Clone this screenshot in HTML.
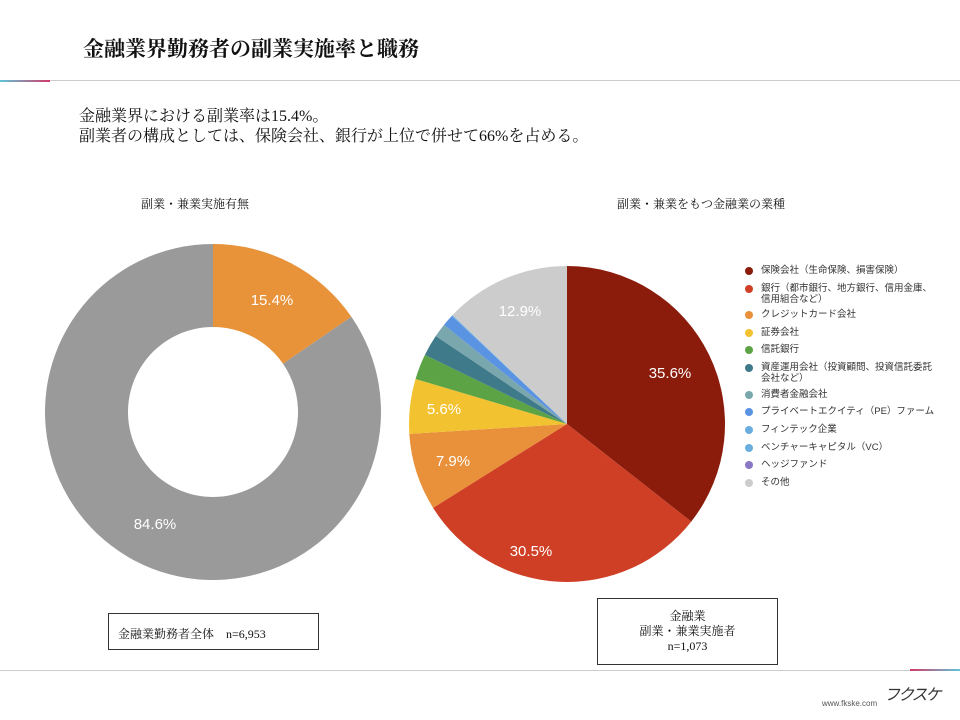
<!DOCTYPE html>
<html><head><meta charset="utf-8"><style>
body{margin:0;width:960px;height:720px;background:#fff;overflow:hidden;position:relative;font-family:"Liberation Serif","Noto Serif CJK SC","Noto Sans CJK JP",serif;color:#111}
.t{position:absolute;white-space:nowrap}
.s{font-family:"Liberation Sans","Noto Sans CJK JP",sans-serif}
.lg{position:absolute;left:746px;font-family:"Liberation Sans","Noto Sans CJK JP",sans-serif;font-size:9.5px;color:#333;line-height:11px}
.lg i{position:absolute;left:-1px;top:2px;width:8px;height:8px;border-radius:50%}
.lg span{position:absolute;left:15px;top:0;white-space:nowrap}
.box{position:absolute;border:1px solid #333;font-size:12px;text-align:center}
</style></head><body>
<div class="t" style="left:83px;top:33px;font-size:21px;font-weight:bold">金融業界勤務者の副業実施率と職務</div>
<div style="position:absolute;left:0;top:80px;width:50px;height:2px;background:linear-gradient(90deg,#5fc6d8,#d23a6a)"></div>
<div style="position:absolute;left:50px;top:80px;width:910px;height:1px;background:#ccc"></div>
<div class="t" style="left:79px;top:107px;font-size:16px;line-height:20px">金融業界における副業率は15.4%。<br>副業者の構成としては、保険会社、銀行が上位で併せて66%を占める。</div>
<div class="t" style="left:141px;top:195px;font-size:12px">副業・兼業実施有無</div>
<div class="t" style="left:617px;top:195px;font-size:12px">副業・兼業をもつ金融業の業種</div>
<svg id="sv" width="960" height="720" style="position:absolute;left:0;top:0"></svg>
<div class="lg" style="top:265px"><i style="background:#8b1c0c"></i><span>保険会社（生命保険、損害保険）</span></div>
<div class="lg" style="top:283px"><i style="background:#cf3f25"></i><span>銀行（都市銀行、地方銀行、信用金庫、<br>信用組合など）</span></div>
<div class="lg" style="top:309px"><i style="background:#e8903a"></i><span>クレジットカード会社</span></div>
<div class="lg" style="top:327px"><i style="background:#f2c230"></i><span>証券会社</span></div>
<div class="lg" style="top:344px"><i style="background:#5ca346"></i><span>信託銀行</span></div>
<div class="lg" style="top:362px"><i style="background:#3f7a8a"></i><span>資産運用会社（投資顧問、投資信託委託<br>会社など）</span></div>
<div class="lg" style="top:389px"><i style="background:#7aa6ad"></i><span>消費者金融会社</span></div>
<div class="lg" style="top:406px"><i style="background:#5b93e3"></i><span>プライベートエクイティ（PE）ファーム</span></div>
<div class="lg" style="top:424px"><i style="background:#6aaee0"></i><span>フィンテック企業</span></div>
<div class="lg" style="top:442px"><i style="background:#6aaee0"></i><span>ベンチャーキャピタル（VC）</span></div>
<div class="lg" style="top:459px"><i style="background:#8a78c4"></i><span>ヘッジファンド</span></div>
<div class="lg" style="top:477px"><i style="background:#cccccc"></i><span>その他</span></div>
<div class="box" style="left:108px;top:613px;width:209px;height:35px;text-align:left"><div style="padding:11px 0 0 9px">金融業勤務者全体　n=6,953</div></div>
<div class="box" style="left:597px;top:598px;width:179px;height:65px;line-height:15px"><div style="padding-top:10px">金融業<br>副業・兼業実施者<br>n=1,073</div></div>
<div style="position:absolute;left:0;top:670px;width:910px;height:1px;background:#ccc"></div>
<div style="position:absolute;left:910px;top:669px;width:50px;height:2px;background:linear-gradient(90deg,#d23a6a,#5fc6d8)"></div>
<div class="t s" style="left:822px;top:699px;font-size:8px;color:#555">www.fkske.com</div>
<div class="t s" style="left:884px;top:681px;font-size:16px;font-style:italic;color:#333;letter-spacing:-2px">フクスケ</div>
<script>
var sv=document.getElementById('sv'),NS='http://www.w3.org/2000/svg';
function arc(cx,cy,r,ri,a0,a1,col){
 function p(rr,a){a=(a-0.25)*2*Math.PI;return [cx+rr*Math.cos(a),cy+rr*Math.sin(a)];}
 var L=(a1-a0)>0.5?1:0,s=p(r,a0),e=p(r,a1),d;
 if(ri>0){var si=p(ri,a1),ei=p(ri,a0);d='M'+s+'A'+r+','+r+' 0 '+L+' 1 '+e+'L'+si+'A'+ri+','+ri+' 0 '+L+' 0 '+ei+'Z';}
 else d='M'+cx+','+cy+'L'+s+'A'+r+','+r+' 0 '+L+' 1 '+e+'Z';
 var el=document.createElementNS(NS,'path');el.setAttribute('d',d);el.setAttribute('fill',col);sv.appendChild(el);}
function txt(x,y,t){var el=document.createElementNS(NS,'text');el.setAttribute('x',x);el.setAttribute('y',y);el.setAttribute('fill','#fff');el.setAttribute('font-size','15');el.setAttribute('text-anchor','middle');el.setAttribute('font-family','Liberation Sans, sans-serif');el.textContent=t;sv.appendChild(el);}
arc(213,412,168,85,0,0.154,'#e8923a');arc(213,412,168,85,0.154,0.99999,'#9a9a9a');
var sl=[[35.6,'#8b1c0c'],[30.5,'#cf3f25'],[7.9,'#e8903a'],[5.6,'#f2c230'],[2.6,'#5ca346'],[2.2,'#3f7a8a'],[1.4,'#7aa6ad'],[1.2,'#5b93e3'],[0.1,'#6aaee0'],[12.9,'#cccccc']];
var a=0;sl.forEach(function(s){var b=a+s[0]/100;arc(567,424,158,0,a,Math.min(b,0.99999),s[1]);a=b;});
txt(272,305,'15.4%');txt(155,529,'84.6%');
txt(670,378,'35.6%');txt(531,556,'30.5%');txt(453,466,'7.9%');txt(444,414,'5.6%');txt(520,316,'12.9%');
</script>
</body></html>
